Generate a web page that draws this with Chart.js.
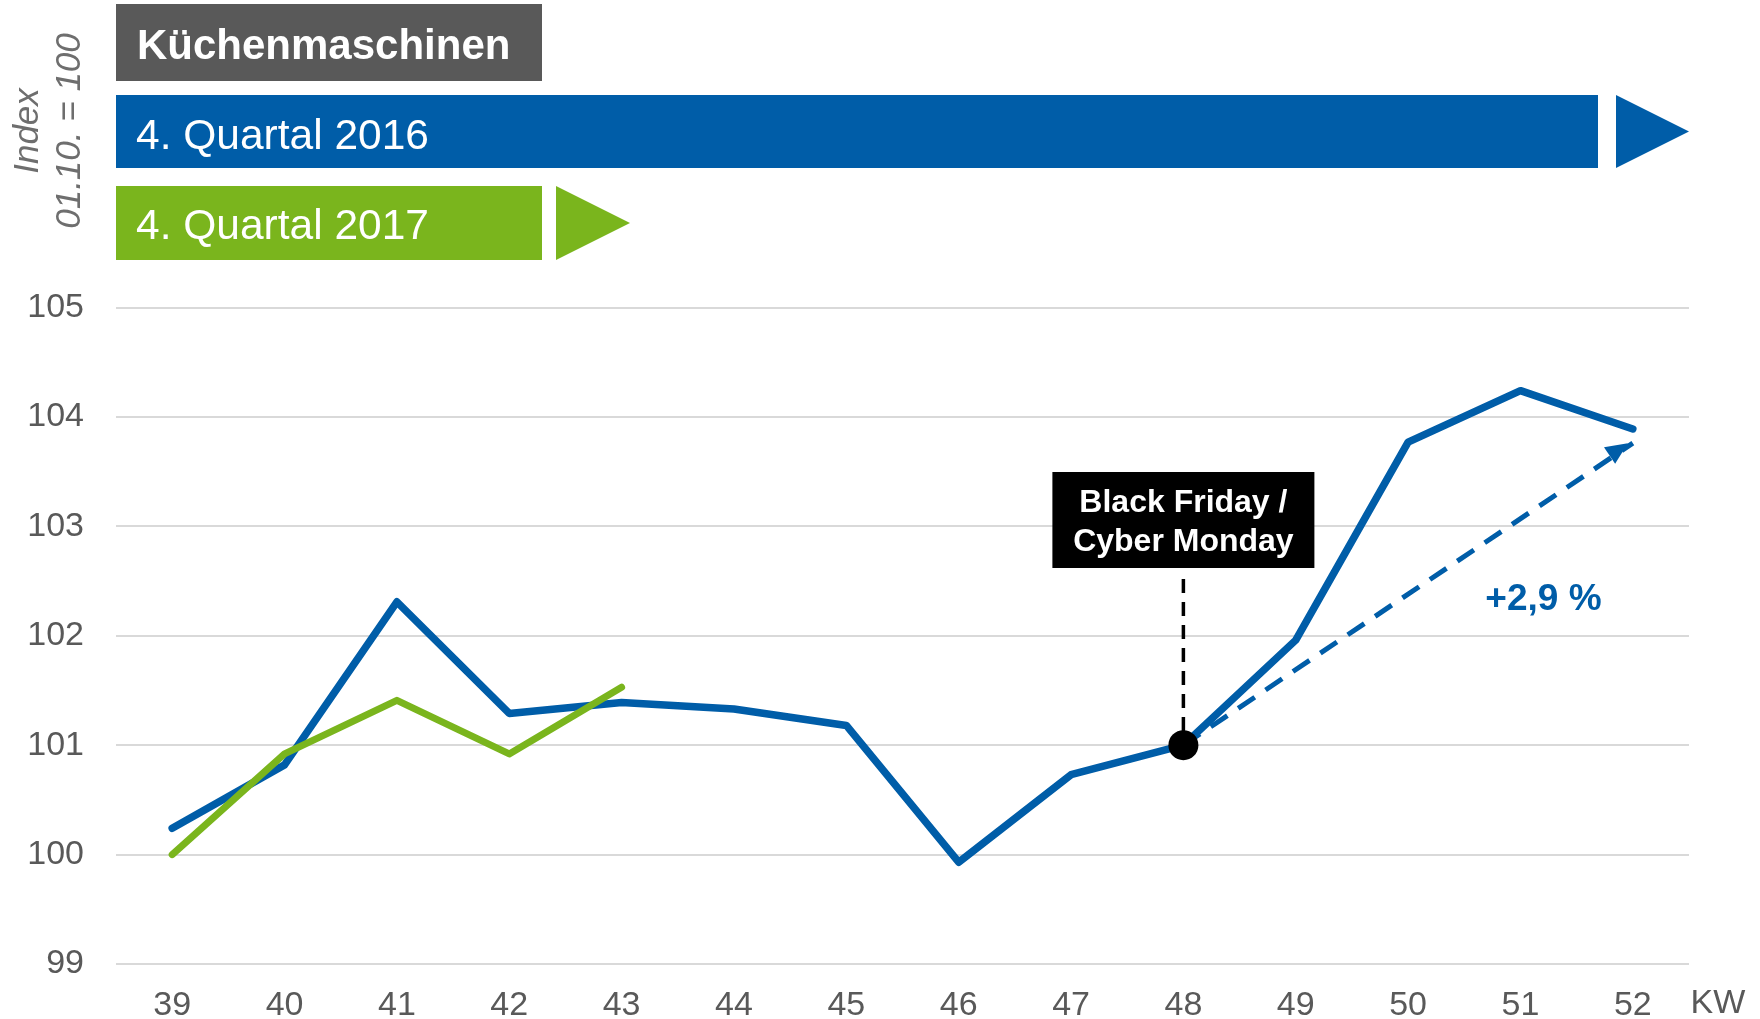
<!DOCTYPE html>
<html lang="de">
<head>
<meta charset="utf-8">
<title>Küchenmaschinen – Index 4. Quartal</title>
<script src="https://cdn.jsdelivr.net/npm/chart.js@4.4.1/dist/chart.umd.min.js"></script>
<style>
    html, body { margin: 0; padding: 0; background: #fff; }
    #wrap { width: 1760px; height: 1019px; }
</style>
</head>
<body>
<div id="wrap"><canvas id="kwChart" width="1760" height="1019"></canvas></div>
<script>
// Kalenderwochen (x axis)
const weeks = ['39', '40', '41', '42', '43', '44', '45', '46', '47', '48', '49', '50', '51', '52'];

// Index values, 01.10. = 100
const q4_2016 = [100.24, 100.82, 102.31, 101.29, 101.39, 101.33, 101.18, 99.93, 100.73, 101.0, 101.96, 103.77, 104.24, 103.89];
const q4_2017 = [100.0, 100.92, 101.41, 100.92, 101.53];

// trend from Black Friday week (48) to week 52
const trendWeeks = ['48', '52'];
const trendValues = [101.0, 103.76];
const trendLabel = '+2,9 %';

// y axis ticks
const yTicks = [99, 100, 101, 102, 103, 104, 105];

const FONT = "'Liberation Sans', Arial, sans-serif";
const BLUE = '#005DA8';
const GREEN = '#7AB51D';
const GREY = '#595959';

// build the sparse series used for the trend arrow and the marker dot
const trendData = weeks.map(w => {
    const i = trendWeeks.indexOf(w);
    return i >= 0 ? trendValues[i] : null;
});
const markerData = weeks.map((w, i) => (w === trendWeeks[0] ? q4_2016[i] : null));

// Header boxes, y axis title, "KW" label
const headerPlugin = {
    id: 'header',
    beforeDraw(chart) {
        const { ctx, chartArea } = chart;
        const left = chartArea.left;
        ctx.save();
        ctx.fillStyle = '#fff';
        ctx.fillRect(0, 0, chart.width, chart.height);

        // grey title box
        ctx.fillStyle = GREY;
        ctx.fillRect(left, 4, 426, 77);
        ctx.fillStyle = '#fff';
        ctx.textBaseline = 'middle';
        ctx.textAlign = 'left';
        ctx.font = 'bold 42px ' + FONT;
        ctx.fillText('Küchenmaschinen', left + 21, 47);

        // blue bar 2016 + arrow
        ctx.fillStyle = BLUE;
        ctx.fillRect(left, 95, 1482, 73);
        ctx.beginPath();
        ctx.moveTo(chartArea.right - 73, 95);
        ctx.lineTo(chartArea.right, 131.5);
        ctx.lineTo(chartArea.right - 73, 168);
        ctx.closePath();
        ctx.fill();
        ctx.fillStyle = '#fff';
        ctx.font = '42.5px ' + FONT;
        ctx.fillText('4. Quartal 2016', left + 20, 137);

        // green bar 2017 + arrow
        ctx.fillStyle = GREEN;
        ctx.fillRect(left, 186, 426, 74);
        ctx.beginPath();
        ctx.moveTo(left + 440, 186);
        ctx.lineTo(left + 514, 223);
        ctx.lineTo(left + 440, 260);
        ctx.closePath();
        ctx.fill();
        ctx.fillStyle = '#fff';
        ctx.fillText('4. Quartal 2017', left + 20, 227);

        // rotated y axis title
        ctx.fillStyle = '#6E6E6E';
        ctx.font = 'italic 35px ' + FONT;
        ctx.textAlign = 'center';
        ctx.translate(0, 131);
        ctx.rotate(-Math.PI / 2);
        ctx.fillText('Index', 0, 28);
        ctx.fillText('01.10. = 100', 0, 70);
        ctx.restore();

        // KW unit label
        ctx.save();
        ctx.fillStyle = GREY;
        ctx.font = '34px ' + FONT;
        ctx.textAlign = 'center';
        ctx.textBaseline = 'middle';
        ctx.fillText('KW', chartArea.right + 29, chartArea.bottom + 40);
        ctx.restore();
    }
};

// Black Friday box, dashed pointer line, arrow head, percentage label
const annotationPlugin = {
    id: 'annotations',
    beforeDatasetsDraw(chart) {
        const { ctx, scales } = chart;
        const idx = weeks.indexOf(trendWeeks[0]);
        const x = scales.x.getPixelForValue(idx);
        const yDot = scales.y.getPixelForValue(q4_2016[idx]);
        const boxTop = 472, boxH = 96, boxW = 262;

        ctx.save();
        ctx.strokeStyle = '#000';
        ctx.lineWidth = 3.5;
        ctx.setLineDash([14, 9]);
        ctx.beginPath();
        ctx.moveTo(x, boxTop + boxH + 11);
        ctx.lineTo(x, yDot - 14);
        ctx.stroke();
        ctx.setLineDash([]);

        ctx.fillStyle = '#000';
        ctx.fillRect(x - boxW / 2, boxTop, boxW, boxH);
        ctx.fillStyle = '#fff';
        ctx.font = 'bold 32px ' + FONT;
        ctx.textAlign = 'center';
        ctx.textBaseline = 'middle';
        ctx.fillText('Black Friday /', x, boxTop + 31);
        ctx.fillText('Cyber Monday', x, boxTop + 70);
        ctx.restore();
    },
    afterDatasetsDraw(chart) {
        const { ctx, scales } = chart;
        const meta = chart.getDatasetMeta(2);
        const p0 = meta.data[weeks.indexOf(trendWeeks[0])];
        const p1 = meta.data[weeks.indexOf(trendWeeks[1])];
        const ang = Math.atan2(p1.y - p0.y, p1.x - p0.x);
        const len = 22, half = 10;

        ctx.save();
        ctx.fillStyle = BLUE;
        ctx.translate(p1.x - 5, p1.y);
        ctx.rotate(ang);
        ctx.beginPath();
        ctx.moveTo(0, 0);
        ctx.lineTo(-len, -half);
        ctx.lineTo(-len, half);
        ctx.closePath();
        ctx.fill();
        ctx.restore();

        ctx.save();
        ctx.fillStyle = BLUE;
        ctx.font = 'bold 37px ' + FONT;
        ctx.textAlign = 'center';
        ctx.textBaseline = 'middle';
        ctx.fillText(trendLabel, scales.x.getPixelForValue(weeks.indexOf('51')) + 23, scales.y.getPixelForValue(102.33));
        ctx.restore();
    }
};

new Chart(document.getElementById('kwChart'), {
    type: 'line',
    data: {
        labels: weeks,
        datasets: [
            {
                label: '4. Quartal 2016',
                data: q4_2016,
                borderColor: BLUE,
                borderWidth: 7.5,
                borderJoinStyle: 'round',
                borderCapStyle: 'round',
                pointRadius: 0,
                tension: 0,
                order: 3
            },
            {
                label: '4. Quartal 2017',
                data: q4_2017,
                borderColor: GREEN,
                borderWidth: 7,
                borderJoinStyle: 'round',
                borderCapStyle: 'round',
                pointRadius: 0,
                tension: 0,
                order: 1
            },
            {
                label: 'Trend',
                data: trendData,
                spanGaps: true,
                borderColor: BLUE,
                borderWidth: 5,
                borderDash: [20, 13],
                pointRadius: 0,
                order: 2
            },
            {
                label: 'Black Friday',
                data: markerData,
                showLine: false,
                pointRadius: 15,
                pointBackgroundColor: '#000',
                pointBorderWidth: 0,
                order: 0
            }
        ]
    },
    options: {
        responsive: false,
        animation: false,
        layout: { padding: { top: 307.5, right: 71, left: 0, bottom: 0 } },
        plugins: {
            legend: { display: false },
            tooltip: { enabled: false }
        },
        scales: {
            x: {
                offset: true,
                grid: { display: false, drawTicks: false },
                border: { display: false },
                ticks: { color: GREY, font: { family: FONT, size: 34 }, padding: 21, maxRotation: 0 },
                afterFit: s => { s.height = 55; }
            },
            y: {
                min: yTicks[0],
                max: yTicks[yTicks.length - 1],
                afterBuildTicks: s => { s.ticks = yTicks.map(v => ({ value: v })); },
                grid: { color: '#D9D9D9', lineWidth: 2, drawTicks: false },
                border: { display: false },
                ticks: { color: GREY, font: { family: FONT, size: 34 }, padding: 32 },
                afterFit: s => { s.width = 116; }
            }
        }
    },
    plugins: [headerPlugin, annotationPlugin]
});
</script>
</body>
</html>
